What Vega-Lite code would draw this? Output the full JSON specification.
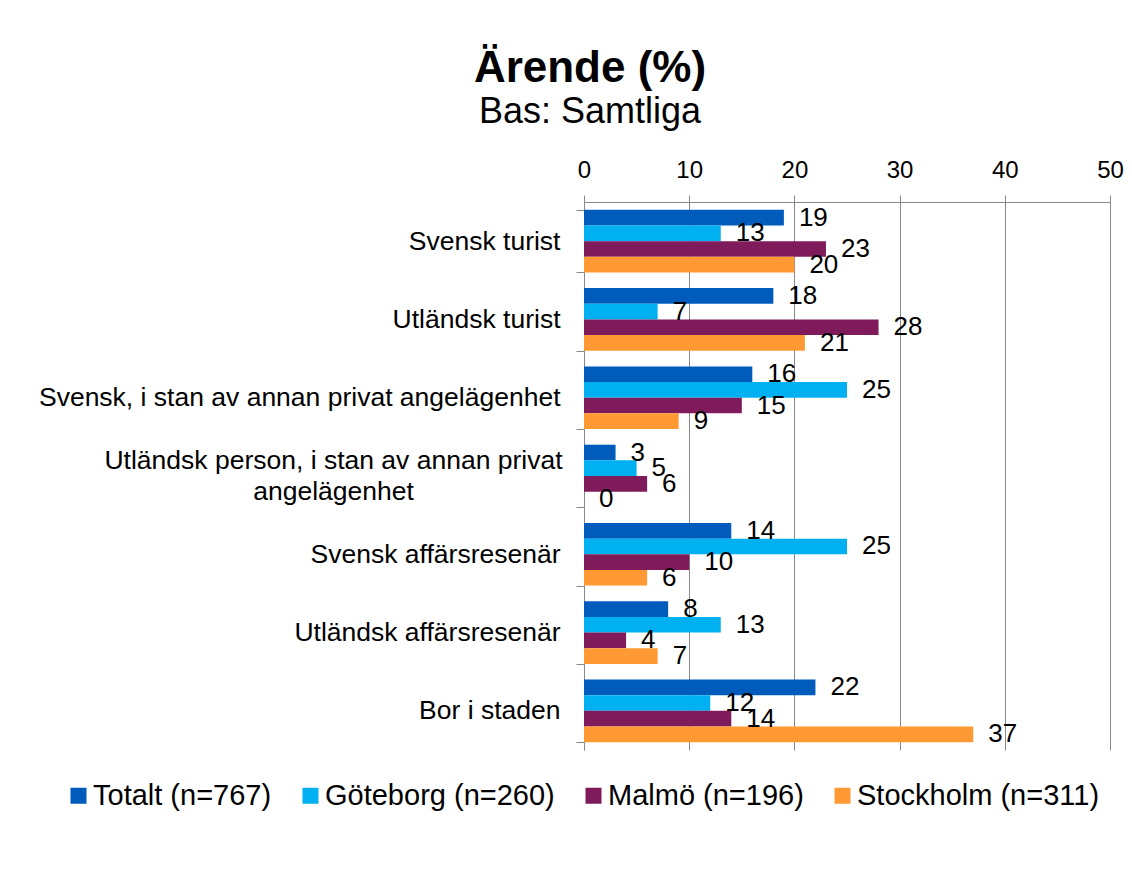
{
  "$schema": "https://vega.github.io/schema/vega-lite/v6.json",
  "width": 526,
  "height": 548,
  "autosize": {"type": "none"},
  "padding": {"left": 584, "top": 202, "right": 22, "bottom": 119},
  "background": "white",
  "config": {"font": "Liberation Sans", "view": {"stroke": null}},
  "title": {
    "text": "Ärende (%)",
    "subtitle": "Bas: Samtliga",
    "fontSize": 44,
    "fontWeight": "bold",
    "subtitleFontSize": 36,
    "color": "black",
    "subtitleColor": "black",
    "anchor": "middle",
    "dx": -257,
    "offset": 28,
    "subtitlePadding": 4,
    "font": "Liberation Sans",
    "subtitleFont": "Liberation Sans"
  },
  "data": {
    "values": [
      {"category": "Svensk turist", "series": "Totalt (n=767)", "value": 19},
      {"category": "Svensk turist", "series": "Göteborg (n=260)", "value": 13},
      {"category": "Svensk turist", "series": "Malmö (n=196)", "value": 23},
      {"category": "Svensk turist", "series": "Stockholm (n=311)", "value": 20},
      {"category": "Utländsk turist", "series": "Totalt (n=767)", "value": 18},
      {"category": "Utländsk turist", "series": "Göteborg (n=260)", "value": 7},
      {"category": "Utländsk turist", "series": "Malmö (n=196)", "value": 28},
      {"category": "Utländsk turist", "series": "Stockholm (n=311)", "value": 21},
      {"category": "Svensk, i stan av annan privat angelägenhet", "series": "Totalt (n=767)", "value": 16},
      {"category": "Svensk, i stan av annan privat angelägenhet", "series": "Göteborg (n=260)", "value": 25},
      {"category": "Svensk, i stan av annan privat angelägenhet", "series": "Malmö (n=196)", "value": 15},
      {"category": "Svensk, i stan av annan privat angelägenhet", "series": "Stockholm (n=311)", "value": 9},
      {"category": "Utländsk person, i stan av annan privat angelägenhet", "series": "Totalt (n=767)", "value": 3},
      {"category": "Utländsk person, i stan av annan privat angelägenhet", "series": "Göteborg (n=260)", "value": 5},
      {"category": "Utländsk person, i stan av annan privat angelägenhet", "series": "Malmö (n=196)", "value": 6},
      {"category": "Utländsk person, i stan av annan privat angelägenhet", "series": "Stockholm (n=311)", "value": 0},
      {"category": "Svensk affärsresenär", "series": "Totalt (n=767)", "value": 14},
      {"category": "Svensk affärsresenär", "series": "Göteborg (n=260)", "value": 25},
      {"category": "Svensk affärsresenär", "series": "Malmö (n=196)", "value": 10},
      {"category": "Svensk affärsresenär", "series": "Stockholm (n=311)", "value": 6},
      {"category": "Utländsk affärsresenär", "series": "Totalt (n=767)", "value": 8},
      {"category": "Utländsk affärsresenär", "series": "Göteborg (n=260)", "value": 13},
      {"category": "Utländsk affärsresenär", "series": "Malmö (n=196)", "value": 4},
      {"category": "Utländsk affärsresenär", "series": "Stockholm (n=311)", "value": 7},
      {"category": "Bor i staden", "series": "Totalt (n=767)", "value": 22},
      {"category": "Bor i staden", "series": "Göteborg (n=260)", "value": 12},
      {"category": "Bor i staden", "series": "Malmö (n=196)", "value": 14},
      {"category": "Bor i staden", "series": "Stockholm (n=311)", "value": 37}
    ]
  },
  "encoding": {
    "y": {
      "field": "category",
      "type": "nominal",
      "sort": null,
      "scale": {"paddingInner": 0.2, "paddingOuter": 0.1},
      "axis": {
        "title": null,
        "labelFontSize": 26.5,
        "labelColor": "black",
        "labelLimit": 800,
        "labelLineHeight": 31,
        "tickSize": 8,
        "tickBand": "extent",
        "tickColor": "#888888",
        "domainColor": "#888888",
        "labelExpr": "datum.value == 'Utländsk person, i stan av annan privat angelägenhet' ? ['Utländsk person, i stan av annan privat', 'angelägenhet'] : datum.value",
        "labelAlign": {"expr": "datum.value == 'Utländsk person, i stan av annan privat angelägenhet' ? 'center' : 'right'"},
        "labelPadding": {"expr": "datum.value == 'Utländsk person, i stan av annan privat angelägenhet' ? 243 : 16"},
        "labelOffset": {"expr": "datum.value == 'Utländsk person, i stan av annan privat angelägenhet' ? -16 : 0"}
      }
    },
    "yOffset": {
      "field": "series",
      "type": "nominal",
      "sort": ["Totalt (n=767)", "Göteborg (n=260)", "Malmö (n=196)", "Stockholm (n=311)"]
    },
    "x": {
      "field": "value",
      "type": "quantitative",
      "scale": {"domain": [0, 50]},
      "axis": {
        "orient": "top",
        "title": null,
        "values": [0, 10, 20, 30, 40, 50],
        "grid": true,
        "gridColor": "#888888",
        "domainColor": "#888888",
        "tickColor": "#888888",
        "tickSize": 7,
        "labelFontSize": 24,
        "labelColor": "black",
        "labelPadding": 13,
        "labelFlush": false
      }
    }
  },
  "layer": [
    {
      "mark": {"type": "bar"},
      "encoding": {
        "color": {
          "field": "series",
          "type": "nominal",
          "scale": {
            "domain": ["Totalt (n=767)", "Göteborg (n=260)", "Malmö (n=196)", "Stockholm (n=311)"],
            "range": ["#005BBB", "#00B0F0", "#7F1B5B", "#FF9933"]
          },
          "legend": {
            "orient": "none",
            "legendX": -520,
            "legendY": 579,
            "direction": "horizontal",
            "title": null,
            "symbolType": "square",
            "symbolSize": 256,
            "symbolStrokeWidth": 0,
            "labelFontSize": 29,
            "labelColor": "black",
            "labelOffset": 0,
            "columnPadding": 24,
            "labelLimit": 400,
            "padding": 0
          }
        }
      }
    },
    {
      "mark": {"type": "text", "align": "left", "baseline": "middle", "dx": 15, "fontSize": 26, "color": "black"},
      "encoding": {"text": {"field": "value", "type": "quantitative"}}
    }
  ]
}
